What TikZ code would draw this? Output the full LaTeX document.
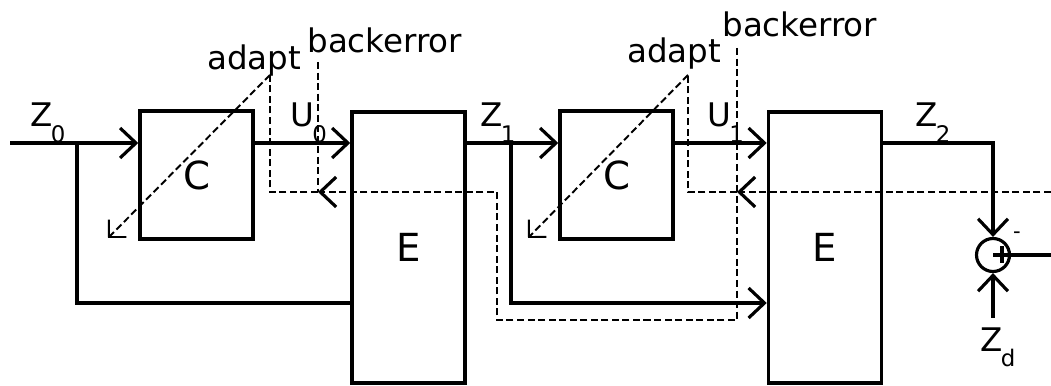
\documentclass[tikz,border=0pt]{standalone}
\usepackage{fontspec}
\setmainfont{DejaVu Sans}
\usetikzlibrary{arrows.meta}
\newcommand{\sigl}[2]{#1\kern-1pt\raisebox{-9pt}{\fontsize{13}{13}\selectfont #2}}

\begin{document}
\begin{tikzpicture}[
  blk/.style={draw,line width=2pt,inner sep=0pt,font=\fontsize{22}{22}\selectfont},
  sig/.style={line width=1.8pt},
  bk/.style={line width=1.1pt,dash pattern=on 4pt off 2pt},
  ad/.style={bk,-{Straight Barb[length=7pt,width=14pt,line width=1.1pt]}},
  lbl/.style={inner sep=0pt,font=\fontsize{18.5}{18.5}\selectfont},
  >={Straight Barb[length=9pt,width=17pt,line width=1.8pt]}]
  \useasboundingbox (0,0) rectangle (21.02,-7.72);
  \node[blk,minimum width=2.26cm,minimum height=2.56cm] (c0) at (3.93,-3.50) {C};
  \node[blk,minimum width=2.26cm,minimum height=5.42cm] (e0) at (8.17,-4.95) {E};
  \node[blk,minimum width=2.26cm,minimum height=2.56cm] (c1) at (12.33,-3.50) {C};
  \node[blk,minimum width=2.26cm,minimum height=5.42cm] (e1) at (16.50,-4.95) {E};
  \node[draw,circle,line width=1.8pt,minimum size=0.66cm,inner sep=0pt] (sum) at (19.86,-5.10) {};

  \coordinate (in) at (0.2,-2.86);
  \coordinate (b0) at (1.54,-2.86);
  \coordinate (l0) at (1.54,-6.06);
  \coordinate (b1) at (10.22,-2.86);
  \coordinate (l1) at (10.22,-6.06);
  \coordinate (zd) at (19.86,-6.36);
  \coordinate (out) at (21.02,-5.10);

  \draw[sig,->] (in) -- (c0.west |- in);
  \draw[sig] (b0) -- (l0) -- (e0.west |- l0);
  \draw[sig,->] (c0.east |- in) -- (e0.west |- in);
  \draw[sig,->] (e0.east |- in) -- (c1.west |- in);
  \draw[sig,->] (b1) -- (l1) -- (e1.west |- l1);
  \draw[sig,->] (c1.east |- in) -- (e1.west |- in);
  \draw[sig,->] (e1.east |- in) -| (sum.north);
  \draw[sig,->] (zd) -- (sum.south);
  \draw[sig] (sum.center) -- (out);
  \draw[sig] ([xshift=0.18cm]sum.center) ++(0,0.17) -- ++(0,-0.34);

  \coordinate (a0) at (5.40,-1.50);
  \coordinate (t0) at (2.16,-4.76);
  \coordinate (r0) at (6.36,-1.24);
  \coordinate (m0) at (6.36,-3.84);
  \coordinate (d0) at (9.94,-3.84);
  \coordinate (d1) at (9.94,-6.40);
  \coordinate (d2) at (14.74,-6.40);
  \coordinate (r1) at (14.74,-0.96);
  \coordinate (m1) at (14.74,-3.84);
  \coordinate (a1) at (13.76,-1.50);
  \coordinate (t1) at (10.56,-4.76);
  \coordinate (rt) at (21.02,-3.84);

  \draw[bk] (r0) -- (m0);
  \draw[bk,->] (r1) -- (d2) -- (d1) -- (d0) -- (m0);
  \draw[bk] (m0) -- (a0 |- m0) -- (a0);
  \draw[ad] (a0) -- (t0);
  \draw[bk,->] (rt) -- (m1);
  \draw[bk] (m1) -- (a1 |- m1) -- (a1);
  \draw[ad] (a1) -- (t1);

  \node[lbl,anchor=base west] (ad0) at (4.14,-1.40) {adapt};
  \node[lbl,anchor=base west] (be0) at (6.14,-1.06) {backerror};
  \node[lbl,anchor=base west] (ad1) at (12.54,-1.26) {adapt};
  \node[lbl,anchor=base west] (be1) at (14.44,-0.74) {backerror};

  \node[lbl,anchor=south west] (z0) at (0.60,-2.86) {\sigl{Z}{0}};
  \node[lbl,anchor=south west] (u0) at (5.80,-2.86) {\sigl{U}{0}};
  \node[lbl,anchor=south west] (z1) at (9.60,-2.86) {\sigl{Z}{1}};
  \node[lbl,anchor=south west] (u1) at (14.14,-2.86) {\sigl{U}{1}};
  \node[lbl,anchor=south west] (z2) at (18.30,-2.86) {\sigl{Z}{2}};
  \node[lbl,anchor=north west] (zdl) at (19.60,-6.54) {\sigl{Z}{d}};
  \node[inner sep=0pt,font=\fontsize{12}{12}\selectfont] (mn) at (20.34,-4.70) {-};
\end{tikzpicture}
\end{document}
